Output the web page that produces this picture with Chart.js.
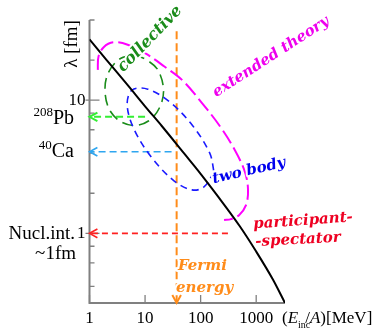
<!DOCTYPE html>
<html>
<head>
<meta charset="utf-8">
<script src="https://cdn.jsdelivr.net/npm/chart.js@4.4.1/dist/chart.umd.min.js"></script>
<style>
  html, body { margin: 0; padding: 0; background: #fff; }
  #wrap { width: 372px; height: 329px; position: relative; }
</style>
</head>
<body>
<div id="wrap"><canvas id="chart"></canvas></div>
<script>
// nucleon wavelength vs. incident energy per nucleon
const energy = [1, 2, 5, 10, 20, 50, 100, 200, 500, 1000, 2000, 3300];
const wavelength = [28.6, 20.2, 12.8, 9.0, 6.4, 4.0, 2.8, 1.92, 1.14, 0.73, 0.45, 0.30];

// dashed regions
const collectiveE = [6.32, 10.8, 17.1, 21.5, 18.2, 11.7, 6.32, 3.44, 2.20, 1.90, 2.20, 3.44, 6.32];
const collectiveL = [22.0, 20.0, 16.8, 11.9, 8.77, 7.01, 6.45, 7.01, 8.77, 12.3, 16.2, 20.3, 22.0];

const twoBodyE = [174, 115, 70, 33.6, 13.1, 6.40, 4.77, 5.82, 11.2, 27.9, 71.4, 146, 174];
const twoBodyL = [2.89, 2.23, 2.12, 2.47, 3.72, 6.00, 9.16, 11.9, 12.1, 9.68, 6.46, 4.00, 2.89];

const extendedE = [1.41, 1.45, 1.80, 2.68, 4.87, 9.97, 22.3, 46.2, 106, 234, 419, 629, 713, 656, 491, 352, 264];
const extendedL = [16.9, 21.2, 25.0, 27.2, 26.1, 22.6, 17.9, 14.2, 9.52, 6.19, 4.17, 2.88, 2.12, 1.63, 1.37, 1.28, 1.26];

// arrows: [start, end]
const pbArrowE = [10, 1], pbArrowL = [7.5, 7.5];
const caArrowE = [30, 1], caArrowL = [4.1, 4.1];
const nuclArrowE = [310, 1], nuclArrowL = [1, 1];
const fermiE = [37, 37], fermiL = [33, 0.3];

// axis ranges and labelled ticks
const xRange = [1, 3300];
const yRange = [0.3, 40];
const xTickLabels = [1, 10, 100, 1000];
const yTickLabels = [10, 1];

function toPts(xs, ys) {
    return xs.map((x, i) => ({ x: x, y: ys[i] }));
}

function isDecade(v) {
    const l = Math.log10(v);
    return Math.abs(l - Math.round(l)) < 1e-6;
}

const serif = '"Liberation Serif", "Times New Roman", serif';
const italicFont = 'bold italic 15px "DejaVu Serif", serif';

// free text on the plot (canvas pixels)
const notes = [
    { text: 'collective', x: 150, y: 39, rot: -46, color: '#1a8c1a', size: 16 },
    { text: 'extended theory', x: 271, y: 57, rot: -33, color: '#ee00ee' },
    { text: 'two body', x: 249, y: 171, rot: -13, color: '#0000ee' },
    { text: 'participant-', x: 303, y: 221, rot: -4, color: '#ee0022' },
    { text: '-spectator', x: 298, y: 240, rot: -3, color: '#ee0022' },
    { text: 'Fermi', x: 178, y: 266, rot: 0, color: '#ff8c1a', align: 'left' },
    { text: 'energy', x: 176, y: 288, rot: 0, color: '#ff8c1a', align: 'left' }
];

const axesPlugin = {
    id: 'axes',
    beforeDatasetsDraw(chart) {
        const ctx = chart.ctx;
        const a = chart.chartArea;
        const xs = chart.scales.x, ys = chart.scales.y;
        ctx.save();
        ctx.strokeStyle = '#808080';
        ctx.lineWidth = 2;
        ctx.beginPath();
        ctx.moveTo(a.left, a.top);
        ctx.lineTo(a.left, a.bottom);
        ctx.lineTo(a.right, a.bottom);
        ctx.stroke();

        ctx.lineWidth = 1.3;
        ctx.beginPath();
        xs.ticks.forEach(t => {
            const px = xs.getPixelForValue(t.value);
            ctx.moveTo(px, a.bottom);
            ctx.lineTo(px, a.bottom - (isDecade(t.value) ? 8 : 4));
        });
        ys.ticks.forEach(t => {
            const py = ys.getPixelForValue(t.value);
            if (isDecade(t.value)) {
                ctx.moveTo(a.left - 4, py);
                ctx.lineTo(a.left + 10, py);
            } else {
                ctx.moveTo(a.left, py);
                ctx.lineTo(a.left + 5, py);
            }
        });
        ctx.stroke();

        // tick labels
        ctx.fillStyle = '#000';
        ctx.font = '17px ' + serif;
        ctx.textAlign = 'center';
        ctx.textBaseline = 'alphabetic';
        xTickLabels.forEach(v => {
            ctx.fillText(String(v), xs.getPixelForValue(v), 323);
        });
        ctx.textAlign = 'right';
        ctx.textBaseline = 'middle';
        yTickLabels.forEach(v => {
            ctx.fillText(String(v), a.left - 4, ys.getPixelForValue(v));
        });
        ctx.restore();
    },
    afterDatasetsDraw(chart) {
        const ctx = chart.ctx;
        const a = chart.chartArea;
        const ys = chart.scales.y;
        ctx.save();

        // arrow heads at the end of the arrow datasets
        chart.data.datasets.forEach((ds, i) => {
            if (!ds.arrow) return;
            const pts = chart.getDatasetMeta(i).data;
            const tip = pts[pts.length - 1], prev = pts[pts.length - 2];
            const ang = Math.atan2(tip.y - prev.y, tip.x - prev.x);
            const len = 9, spread = 0.5;
            ctx.strokeStyle = ds.borderColor;
            ctx.lineWidth = ds.borderWidth;
            ctx.setLineDash([]);
            ctx.beginPath();
            ctx.moveTo(tip.x - len * Math.cos(ang - spread), tip.y - len * Math.sin(ang - spread));
            ctx.lineTo(tip.x, tip.y);
            ctx.lineTo(tip.x - len * Math.cos(ang + spread), tip.y - len * Math.sin(ang + spread));
            ctx.stroke();
        });

        // notes with a white halo
        ctx.textBaseline = 'middle';
        ctx.lineJoin = 'round';
        notes.forEach(n => {
            ctx.save();
            ctx.font = n.size ? 'bold italic ' + n.size + 'px "DejaVu Serif", serif' : italicFont;
            ctx.translate(n.x, n.y);
            ctx.rotate(n.rot * Math.PI / 180);
            ctx.textAlign = n.align || 'center';
            ctx.strokeStyle = '#fff';
            ctx.lineWidth = 4;
            ctx.strokeText(n.text, 0, 0);
            ctx.fillStyle = n.color;
            ctx.fillText(n.text, 0, 0);
            ctx.restore();
        });

        // left side labels
        ctx.fillStyle = '#000';
        ctx.textBaseline = 'alphabetic';
        ctx.textAlign = 'right';
        ctx.font = '19px ' + serif;
        const yOne = ys.getPixelForValue(1);
        ctx.fillText('Nucl.int.', 75, yOne + 6);
        ctx.fillText('~1fm', 76, yOne + 26);

        const supLabel = (main, sup, right, base) => {
            ctx.font = '20px ' + serif;
            ctx.fillText(main, right, base);
            const w = ctx.measureText(main).width;
            ctx.font = '13px ' + serif;
            ctx.fillText(sup, right - w, base - 8);
        };
        supLabel('Pb', '208', 74, 124);
        supLabel('Ca', '40', 74, 157);

        // y title
        ctx.save();
        ctx.translate(72, 44);
        ctx.rotate(-Math.PI / 2);
        ctx.textAlign = 'center';
        ctx.textBaseline = 'middle';
        ctx.font = '19px ' + serif;
        ctx.fillText('\u03bb [fm]', 0, 0);
        ctx.restore();

        // x title, to the right of the axis end
        ctx.textAlign = 'left';
        let x = a.right - 3;
        const base = 323;
        const put = (txt, font, dy, back) => {
            ctx.font = font;
            ctx.fillText(txt, x, base + dy);
            x += ctx.measureText(txt).width - (back || 0);
        };
        put('(', '17px ' + serif, 0);
        put('E', 'italic 17px ' + serif, 0);
        put('inc', '10px ' + serif, 5, 5);
        put('/', '17px ' + serif, 0);
        put('A', 'italic 17px ' + serif, 0);
        put(')[MeV]', '17px ' + serif, 0);

        ctx.restore();
    }
};

const ctx = document.getElementById('chart');
new Chart(ctx, {
    type: 'line',
    data: {
        datasets: [
            {
                data: toPts(energy, wavelength),
                borderColor: '#000000',
                borderWidth: 2,
                cubicInterpolationMode: 'monotone',
                order: 0
            },
            {
                data: toPts(extendedE, extendedL),
                borderColor: '#ff00ff',
                borderWidth: 2,
                borderDash: [15, 5],
                tension: 0.35,
                order: 3
            },
            {
                data: toPts(collectiveE, collectiveL),
                borderColor: '#1a8c1a',
                borderWidth: 1.6,
                borderDash: [11, 6],
                tension: 0.35,
                order: 2
            },
            {
                data: toPts(twoBodyE, twoBodyL),
                borderColor: '#1a1aff',
                borderWidth: 1.6,
                borderDash: [7, 5],
                tension: 0.35,
                order: 1
            },
            {
                data: toPts(pbArrowE, pbArrowL),
                borderColor: '#33ee33',
                borderWidth: 2,
                borderDash: [7, 4],
                arrow: true,
                order: 4
            },
            {
                data: toPts(caArrowE, caArrowL),
                borderColor: '#2ea6f0',
                borderWidth: 1.6,
                borderDash: [7, 4],
                arrow: true,
                order: 4
            },
            {
                data: toPts(nuclArrowE, nuclArrowL),
                borderColor: '#ff2020',
                borderWidth: 1.6,
                borderDash: [6, 4],
                arrow: true,
                order: 4
            },
            {
                data: toPts(fermiE, fermiL),
                borderColor: '#ff8c1a',
                borderWidth: 2,
                borderDash: [8, 4],
                arrow: true,
                order: 4
            }
        ]
    },
    options: {
        responsive: true,
        maintainAspectRatio: false,
        animation: false,
        layout: { padding: { left: 89.5, right: 87, top: 20, bottom: 26 } },
        elements: { point: { radius: 0 } },
        scales: {
            x: { type: 'logarithmic', min: xRange[0], max: xRange[1], display: false },
            y: { type: 'logarithmic', min: yRange[0], max: yRange[1], display: false }
        },
        plugins: {
            legend: { display: false },
            tooltip: { enabled: false }
        }
    },
    plugins: [axesPlugin]
});
</script>
</body>
</html>
